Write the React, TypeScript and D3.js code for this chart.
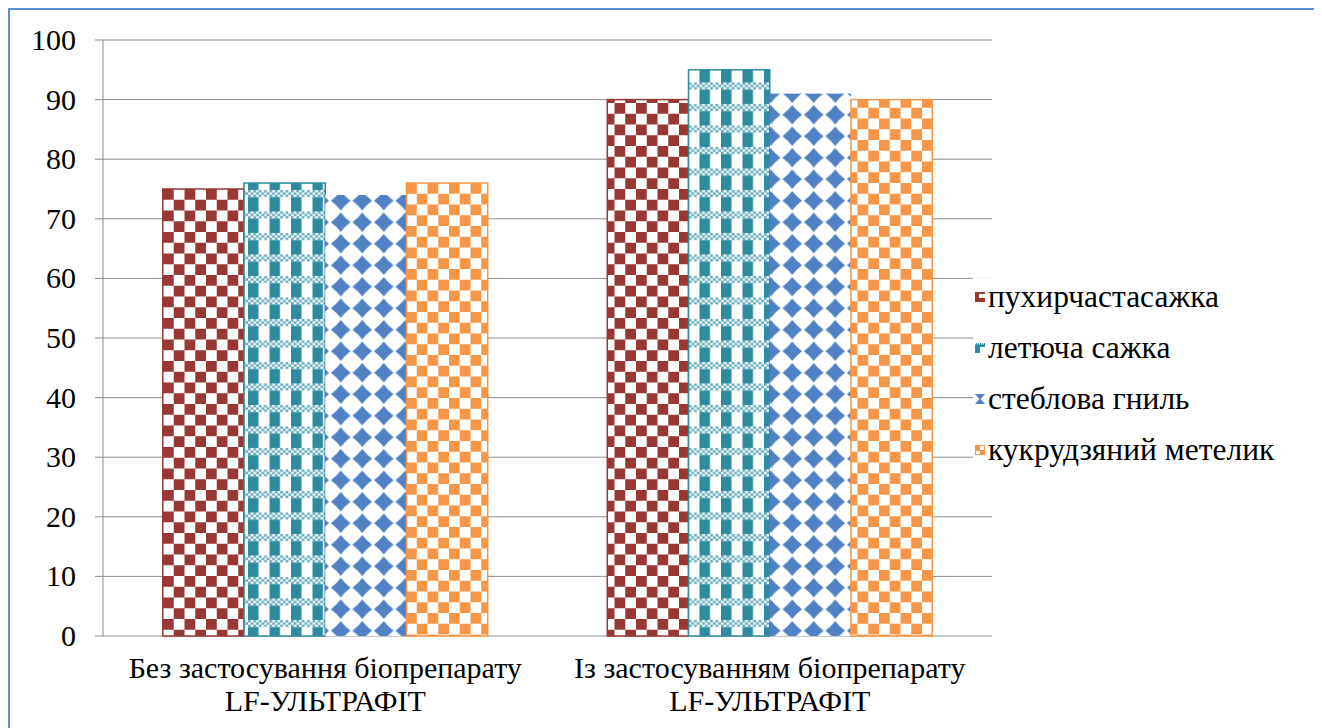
import React from "react";
import * as d3 from "d3";

const categories = [
  ["Без застосування біопрепарату", "LF-УЛЬТРАФІТ"],
  ["Із застосуванням біопрепарату", "LF-УЛЬТРАФІТ"],
];
const seriesNames = ["пухирчастасажка", "летюча сажка", "стеблова гниль", "кукрудзяний метелик"];
const seriesColors = ["#993735", "#2e8a9e", "#4f81c4", "#f79646"];
const valuesNoBio = [75, 76, 74, 76];
const valuesWithBio = [90, 95, 91, 90];
const yTicks = [0, 10, 20, 30, 40, 50, 60, 70, 80, 90, 100];

const FONT = "Liberation Serif";
const FS = 30;
const LFS = 31.5;

function LegendMarker({ i }: { i: number }) {
  const c = seriesColors[i];
  if (i === 0)
    return (
      <g>
        <rect x={0} y={-5} width={10} height={10} fill={c} />
        <rect x={4} y={-3} width={6} height={4} fill="#fff" />
      </g>
    );
  if (i === 1)
    return (
      <g>
        <rect x={0} y={-5} width={10} height={10} fill={c} />
        <rect x={5} y={-1} width={5} height={6} fill="#fff" />
        {d3.range(5).map((k) => (
          <rect key={k} x={k * 2} y={-5} width={1} height={1.5} fill="#fff" />
        ))}
      </g>
    );
  if (i === 2)
    return <path d="M0,-5 L10,-5 L5.6,0 L10,5 L0,5 L4.4,0 Z" fill={c} />;
  return (
    <g>
      <rect x={0} y={-5} width={10} height={10} fill={c} />
      <rect x={5} y={-4} width={4} height={4} fill="#fff" />
      <rect x={1} y={1} width={4} height={3} fill="#fff" />
    </g>
  );
}

export default function App() {
  const x0 = d3.scaleBand<number>().domain([0, 1]).range([103, 992]).paddingInner(0.269).paddingOuter(0.1345);
  const x1 = d3.scaleBand<number>().domain([0, 1, 2, 3]).range([0, x0.bandwidth()]);
  const y = d3.scaleLinear().domain([0, 100]).range([636, 40]);
  const data = [valuesNoBio, valuesWithBio];
  const P = 21.5;
  const fills = ["url(#pRed)", "url(#pTeal)", "url(#pBlue)", "url(#pOrange)"];
  const strokes = [seriesColors[0], seriesColors[1], "none", seriesColors[3]];
  const bandCells = d3.range(8);
  const cw = P / 8;

  return (
    <svg width={1314} height={720} style={{ display: "block" }}>
      <defs>
        <pattern id="pRed" patternUnits="userSpaceOnUse" width={P} height={P} x={163} y={189}>
          <rect width={P} height={P} fill="#fff" />
          <rect width={P / 2} height={P / 2} fill={seriesColors[0]} />
          <rect x={P / 2} y={P / 2} width={P / 2} height={P / 2} fill={seriesColors[0]} />
        </pattern>
        <pattern id="pOrange" patternUnits="userSpaceOnUse" width={P} height={P} x={406} y={183}>
          <rect width={P} height={P} fill="#fff" />
          <rect width={P / 2} height={P / 2} fill={seriesColors[3]} />
          <rect x={P / 2} y={P / 2} width={P / 2} height={P / 2} fill={seriesColors[3]} />
        </pattern>
        <pattern id="pTeal" patternUnits="userSpaceOnUse" width={P} height={P} x={248} y={186}>
          <rect width={P} height={P} fill="#fff" />
          <rect x={0} y={0} width={10.5} height={P} fill={seriesColors[1]} />
          <rect x={0} y={4} width={P} height={7} fill="#fff" />
          {bandCells.map((i) => (
            <g key={i}>
              <rect x={i * cw} y={4 + (i % 2) * 2.3} width={cw} height={2.4} fill="#5fa8ba" />
              {i % 2 === 0 && <rect x={i * cw} y={8.6} width={cw} height={2.4} fill="#5fa8ba" />}
            </g>
          ))}
        </pattern>
        <pattern id="pBlue" patternUnits="userSpaceOnUse" width={P} height={P} x={330} y={190}>
          <rect width={P} height={P} fill="#fff" />
          <path
            transform={`translate(${P / 2},${P / 2})`}
            d="M0,-9.8 Q4.2,-4.2 9.8,0 Q4.2,4.2 0,9.8 Q-4.2,4.2 -9.8,0 Q-4.2,-4.2 0,-9.8 Z"
            fill={seriesColors[2]}
          />
        </pattern>
      </defs>
      <g transform="translate(-8,-8)">
        <rect x={9} y={9} width={1307} height={760} fill="#fff" stroke="#5b8fd0" strokeWidth={2} />
        {yTicks.map((t) => (
          <g key={t}>
            <line x1={95} x2={992} y1={y(t)} y2={y(t)} stroke="#8c8c8c" strokeWidth={1} />
            <text x={76} y={y(t)} dy="0.33em" textAnchor="end" fontFamily={FONT} fontSize={FS} fill="#000">
              {t}
            </text>
          </g>
        ))}
        <line x1={103} x2={103} y1={y(100)} y2={y(0)} stroke="#8c8c8c" strokeWidth={1} />
        {data.map((vals, ci) =>
          vals.map((v, si) => (
            <rect
              key={ci + "-" + si}
              x={(x0(ci) as number) + (x1(si) as number)}
              y={y(v)}
              width={x1.bandwidth()}
              height={y(0) - y(v)}
              fill={fills[si]}
              stroke={strokes[si]}
              strokeWidth={1.5}
            />
          ))
        )}
        {categories.map((lines, ci) => (
          <g key={ci}>
            <text
              x={(x0(ci) as number) + x0.bandwidth() / 2}
              y={678}
              textAnchor="middle"
              fontFamily={FONT}
              fontSize={FS}
              fill="#000"
            >
              {lines[0]}
            </text>
            <text
              x={(x0(ci) as number) + x0.bandwidth() / 2}
              y={711}
              textAnchor="middle"
              fontFamily={FONT}
              fontSize={FS}
              fill="#000"
            >
              {lines[1]}
            </text>
          </g>
        ))}
        <rect x={973} y={278} width={336} height={190} fill="#fff" />
        {seriesNames.map((s, i) => (
          <g key={s} transform={`translate(975,${297 + i * 51})`}>
            <LegendMarker i={i} />
            <text x={13} y={0} dy="0.33em" fontFamily={FONT} fontSize={LFS} fill="#000">
              {s}
            </text>
          </g>
        ))}
      </g>
    </svg>
  );
}
